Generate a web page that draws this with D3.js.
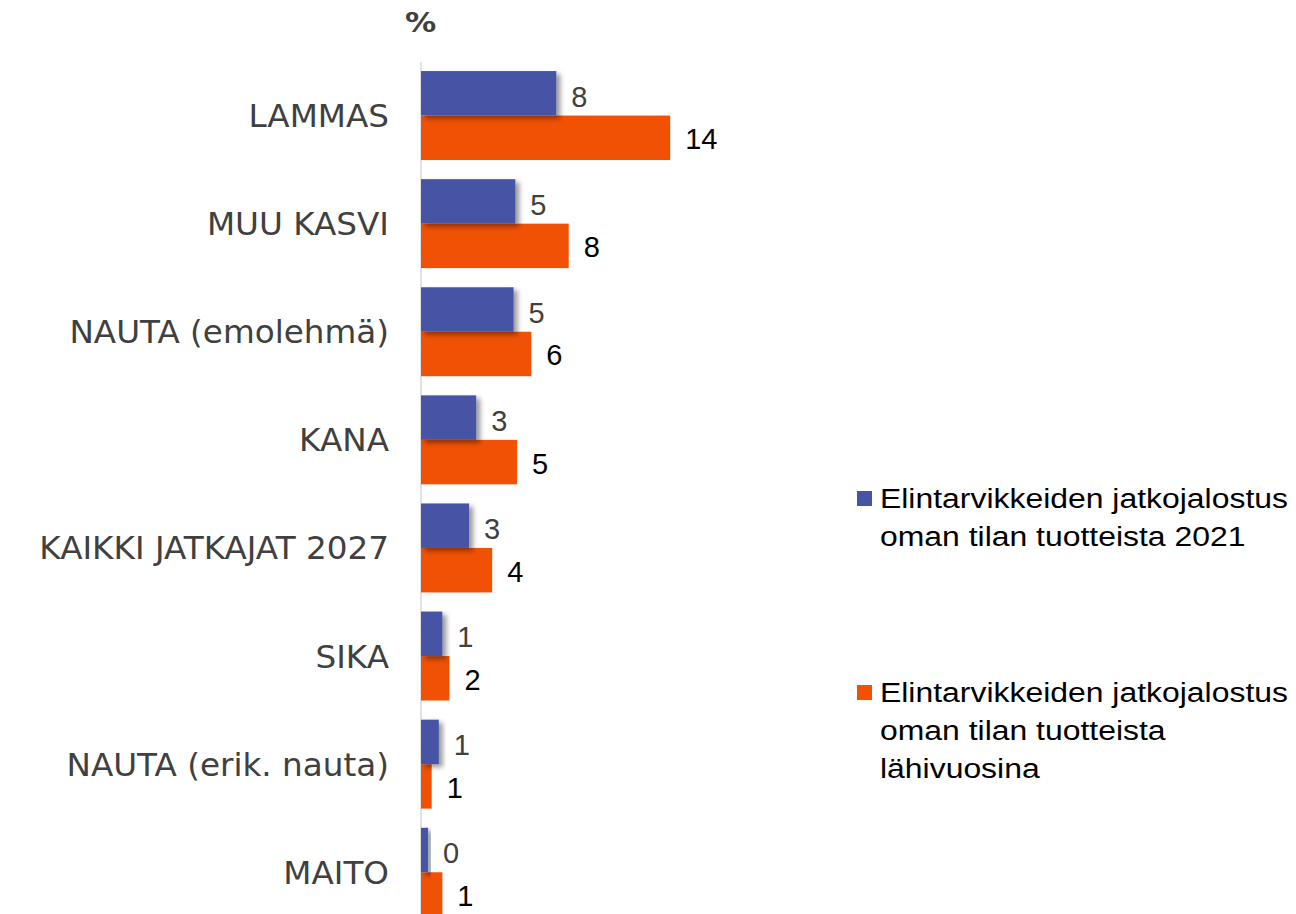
<!DOCTYPE html>
<html>
<head>
<meta charset="utf-8">
<script src="https://cdn.jsdelivr.net/npm/d3@7"></script>
<style>
	body { margin: 0; background: #fff; }
</style>
</head>
<body>
<div id="chart"></div>
<script>
const categories = ['LAMMAS', 'MUU KASVI', 'NAUTA (emolehmä)', 'KANA', 'KAIKKI JATKAJAT 2027', 'SIKA', 'NAUTA (erik. nauta)', 'MAITO']
const values2021 = [7.6, 5.3, 5.2, 3.1, 2.7, 1.2, 1.0, 0.4]
const valuesNear = [14.0, 8.3, 6.2, 5.4, 4.0, 1.6, 0.6, 1.2]
const seriesNames = [
	['Elintarvikkeiden jatkojalostus', 'oman tilan tuotteista 2021'],
	['Elintarvikkeiden jatkojalostus', 'oman tilan tuotteista', 'lähivuosina']
]
const colors = ['#4753a5', '#f05105']

const width = 1296
const height = 914
const svg = d3.select('#chart').append('svg').attr('width', width).attr('height', height)

// shadow for the first series
const defs = svg.append('defs')
defs.append('filter')
	.attr('id', 'shadow')
	.attr('x', '-20%').attr('y', '-20%').attr('width', '160%').attr('height', '160%')
	.append('feDropShadow')
	.attr('dx', 4).attr('dy', 3)
	.attr('stdDeviation', 2.5)
	.attr('flood-color', '#000')
	.attr('flood-opacity', 0.4)

const x = d3.scaleLinear().domain([0, 15]).range([421, 421 + 17.8 * 15])
const y = d3.scaleBand().domain(categories).range([61.5, 926.3]).paddingInner(0.177).paddingOuter(0.0885)
const sub = d3.scaleBand().domain([0, 1]).range([0, y.bandwidth()])

const rows = categories.map((c, i) => ({ cat: c, vals: [values2021[i], valuesNear[i]] }))

// axis line
svg.append('line')
	.attr('x1', x(0)).attr('x2', x(0))
	.attr('y1', 62).attr('y2', height)
	.attr('stroke', '#d9d9d9').attr('stroke-width', 1.5)

// % label
svg.append('text')
	.attr('transform', 'translate(405,32) scale(1.2,1)')
	.attr('font-family', 'DejaVu Sans')
	.attr('font-weight', 'bold')
	.attr('font-size', '26px')
	.attr('fill', '#404040')
	.text('%')

const groups = svg.selectAll('g.group')
	.data(rows)
	.enter()
	.append('g')
	.attr('class', 'group')
	.attr('transform', (d) => `translate(0,${y(d.cat)})`)

// category labels
groups.append('text')
	.attr('transform', `translate(389,${y.bandwidth() / 2}) scale(1.02,1)`)
	.attr('dy', '0.36em')
	.attr('text-anchor', 'end')
	.attr('font-family', 'DejaVu Sans')
	.attr('font-size', '32px')
	.attr('fill', '#404040')
	.text((d) => d.cat)

// orange bars first so the blue shadow falls on top
;[1, 0].forEach(function (s) {
	groups.append('rect')
		.attr('x', x(0))
		.attr('y', sub(s))
		.attr('width', (d) => x(d.vals[s]) - x(0))
		.attr('height', sub.bandwidth())
		.attr('fill', colors[s])
		.attr('filter', s === 0 ? 'url(#shadow)' : null)
})

// value labels
;[0, 1].forEach(function (s) {
	groups.append('text')
		.attr('x', (d) => x(d.vals[s]) + 15)
		.attr('y', sub(s) + sub.bandwidth() / 2 + (s === 0 ? 3 : 1))
		.attr('dy', '0.36em')
		.attr('font-family', 'Liberation Sans')
		.attr('font-size', '29px')
		.attr('fill', s === 0 ? '#404040' : '#000')
		.text((d) => d3.format('.0f')(d.vals[s]))
})

// legend
const legendTops = [508, 702]
seriesNames.forEach(function (lines, s) {
	const g = svg.append('g').attr('transform', `translate(857,${legendTops[s]})`)
	g.append('rect')
		.attr('x', 0).attr('y', -17)
		.attr('width', 15).attr('height', 15)
		.attr('fill', colors[s])
	lines.forEach(function (t, k) {
		g.append('text')
			.attr('transform', `translate(23,${k * 38}) scale(1.14,1)`)
			.attr('font-family', 'Liberation Sans')
			.attr('font-size', '28px')
			.attr('fill', '#000')
			.text(t)
	})
})
</script>
</body>
</html>
